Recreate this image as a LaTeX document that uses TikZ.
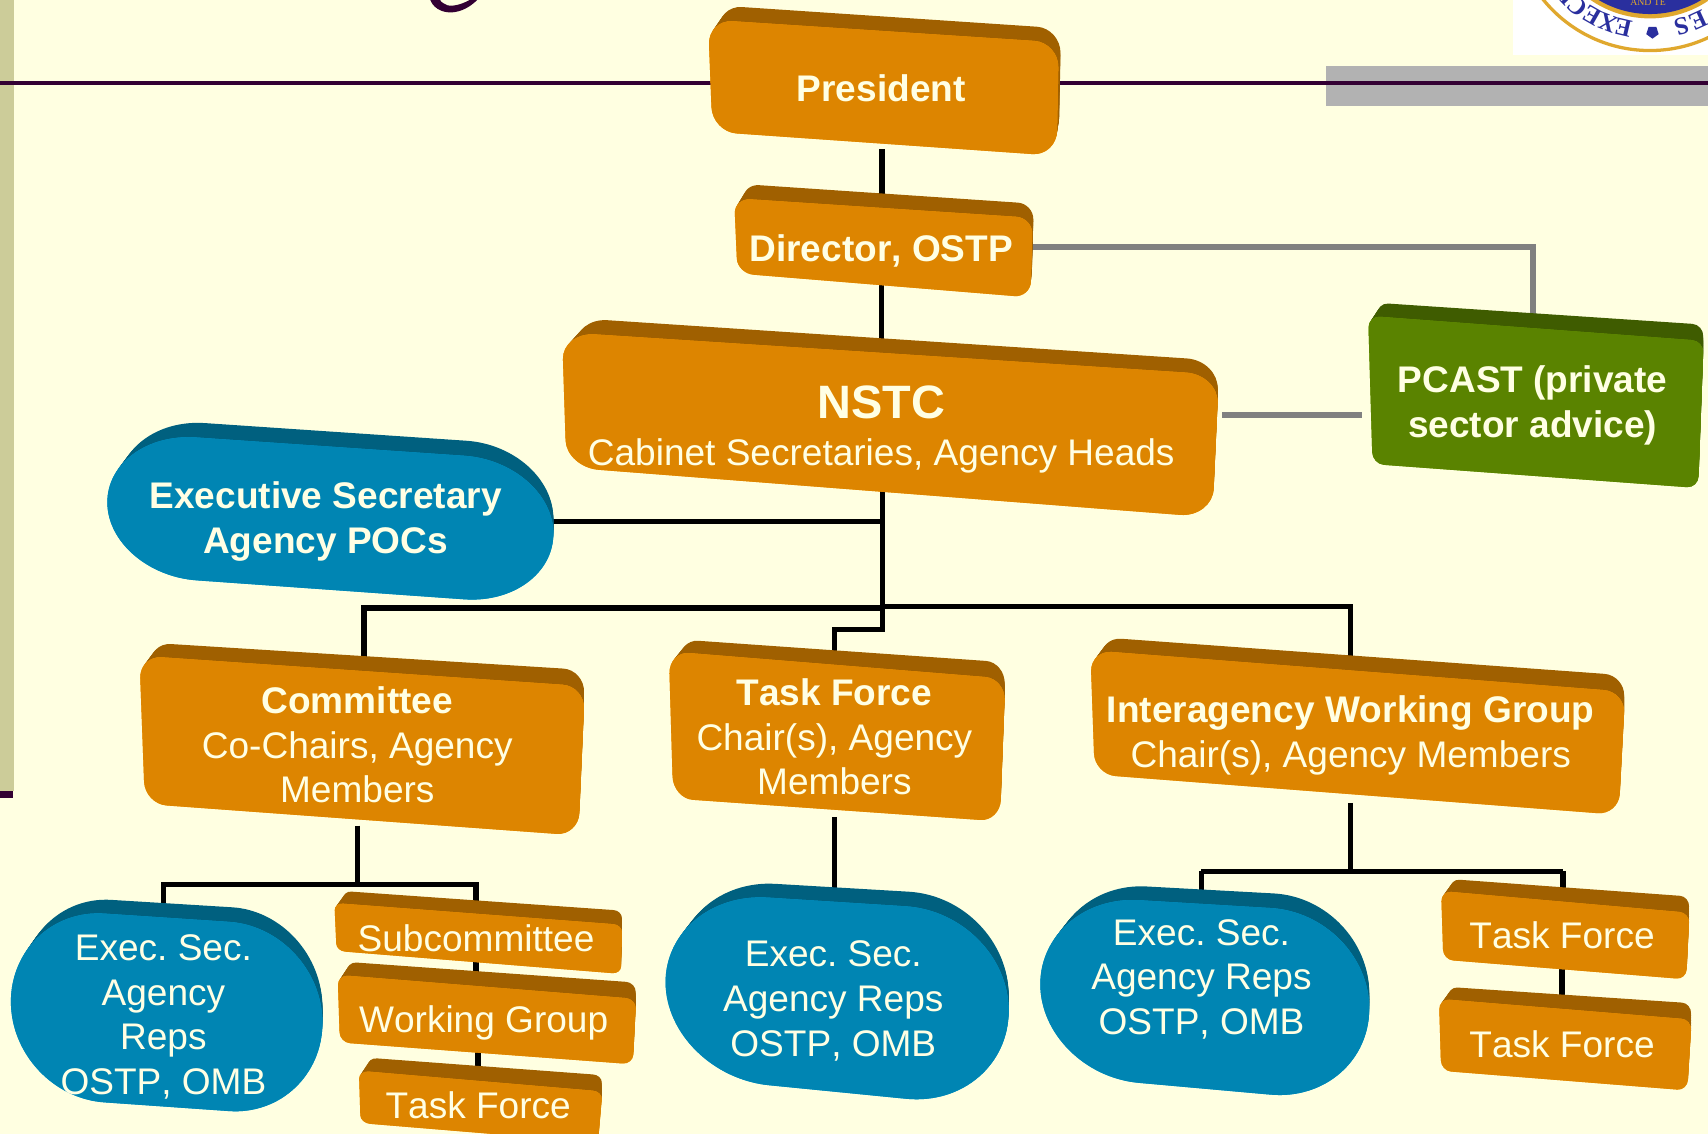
\documentclass[tikz,border=0pt]{standalone}
\usepackage{fontspec}
\setmainfont[Kerning=Off]{Liberation Sans}
\newfontfamily\sealfont{Liberation Serif}
\usetikzlibrary{calc,shapes.geometric}
\pgfdeclarelayer{backlayer}
\pgfdeclarelayer{shapelayer}
\pgfsetlayers{backlayer,shapelayer,main}
\definecolor{pagebg}{HTML}{FFFFE1}
\definecolor{txtc}{HTML}{FFFFE4}
\definecolor{band}{HTML}{CCCC99}
\definecolor{plum}{HTML}{330033}
\definecolor{oF}{HTML}{DD8500}\definecolor{oD}{HTML}{A06000}\definecolor{oL}{HTML}{FF9C00}
\definecolor{bF}{HTML}{0085B3}\definecolor{bD}{HTML}{00607F}\definecolor{bL}{HTML}{00A0DC}
\definecolor{gF}{HTML}{5A8300}\definecolor{gD}{HTML}{3F5C00}\definecolor{gL}{HTML}{6EA000}
\definecolor{sealblue}{HTML}{2A2F9E}
\definecolor{sealgold}{HTML}{E0A82E}
\newcommand\quadfill[7]{%
  \fill[#1] ($(#4)!#2!(#5)$) -- ($(#5)!#2!(#4)$)
    .. controls ($(#5)!0.45*#2!(#4)$) and ($(#5)!0.45*#3!(#6)$) .. ($(#5)!#3!(#6)$)
    -- ($(#6)!#3!(#5)$)
    .. controls ($(#6)!0.45*#3!(#5)$) and ($(#6)!0.45*#2!(#7)$) .. ($(#6)!#2!(#7)$)
    -- ($(#7)!#2!(#6)$)
    .. controls ($(#7)!0.45*#2!(#6)$) and ($(#7)!0.45*#3!(#4)$) .. ($(#7)!#3!(#4)$)
    -- ($(#4)!#3!(#7)$)
    .. controls ($(#4)!0.45*#3!(#7)$) and ($(#4)!0.45*#2!(#5)$) .. cycle;}
\newcommand\threedsolid[9]{%
  \coordinate (fA) at #4; \coordinate (fB) at #5; \coordinate (fC) at #6; \coordinate (fD) at #7;
  \coordinate (bA) at ($(fA)+#8$); \coordinate (bD) at ($(fD)+#8$);
  \coordinate (bB) at ($(fB)+#9$); \coordinate (bC) at ($(fC)+#9$);
  \foreach \t in {1,0.9,0.8,0.7,0.6,0.5,0.4,0.3,0.2,0.1}{%
    \coordinate (iA) at ($(fA)!\t!(bA)$); \coordinate (iB) at ($(fB)!\t!(bB)$);
    \coordinate (iC) at ($(fC)!\t!(bC)$); \coordinate (iD) at ($(fD)!\t!(bD)$);
    \quadfill{#1D}{#2}{#3}{iA}{iB}{iC}{iD}}
  \begin{scope}[shift={(0,2.5)}]\quadfill{#1L}{#2}{#3}{fA}{fB}{fC}{fD}\end{scope}
  \quadfill{#1F}{#2}{#3}{fA}{fB}{fC}{fD}}
\tikzset{
  lbl/.style={inner sep=0pt,outer sep=0pt,text=txtc,align=center,font=\fontsize{34}{41}\selectfont\frenchspacing},
  lblb/.style={lbl,font=\fontsize{34}{41}\selectfont\bfseries\frenchspacing},
  blackline/.style={draw=black,line width=5pt},
  grayline/.style={draw=black!50,line width=5.5pt},
  sealletter/.style={inner sep=0pt,text=sealblue,font=\sealfont\fontsize{23}{23}\selectfont\bfseries}
}
\begin{document}
\begin{tikzpicture}[x=1pt,y=-1pt]
\useasboundingbox (0,0) rectangle (1568,1041);
% texts
\node[lblb] (pres) at (809,81) {President};
\node[lblb] (dir) at (809,230) {Director, OSTP};
\node[lbl] (nstc) at (809,394) {\fontsize{43}{47}\selectfont\bfseries NSTC\\[2pt]\fontsize{34}{41}\selectfont\mdseries Cabinet Secretaries, Agency Heads};
\node[lblb] (pcast) at (1407,372) {PCAST (private\\sector advice)};
\node[lblb] (esec) at (299,479) {Executive Secretary\\Agency POCs};
\node[lbl] (comm) at (328,684) {\textbf{Committee}\\Co-Chairs, Agency\\Members};
\node[lbl] (tf) at (766,676.5) {\textbf{Task Force}\\Chair(s), Agency\\Members};
\node[lbl] (iwg) at (1240,675) {\textbf{Interagency Working Group}\\Chair(s), Agency Members};
\node[lbl] (eL) at (150,933.5) {Exec. Sec.\\Agency\\Reps\\OSTP, OMB};
\node[lbl] (sub) at (437,861) {Subcommittee};
\node[lbl] (wg) at (444,939) {Working Group};
\node[lbl] (tfL) at (439,1015) {Task Force};
\node[lbl] (eC) at (765,919) {Exec. Sec.\\Agency Reps\\OSTP, OMB};
\node[lbl] (eR) at (1103,899) {Exec. Sec.\\Agency Reps\\OSTP, OMB};
\node[lbl] (tfR1) at (1434,859) {Task Force};
\node[lbl] (tfR2) at (1434,959) {Task Force};
% named connector points
\coordinate (presOut) at (809.5,137);
\coordinate (nstcE) at (1122,381);
\coordinate (pcastW) at (1250,381);
\coordinate (jEsec) at (810,479);
\coordinate (busM) at (810,558);
\coordinate (busL) at (334,559);
\coordinate (busR) at (1240,557);
\coordinate (commTop) at (334,610);
\coordinate (iwgTop) at (1240,610);
\coordinate (tfJ1) at (810,578);
\coordinate (tfJ2) at (766,578);
\coordinate (tfTop) at (766,600);
\coordinate (commOut) at (328,758);
\coordinate (commBus) at (328,812);
\coordinate (commBusL) at (150,812);
\coordinate (commBusR) at (437,812);
\coordinate (eLTop) at (150,840);
\coordinate (subTop) at (437,840);
\coordinate (tfOut) at (766,750);
\coordinate (eCTop) at (766,825);
\coordinate (iwgOut) at (1240,737);
\coordinate (iwgBus) at (1240,800);
\coordinate (iwgBusL) at (1103,800);
\coordinate (iwgBusR) at (1435,800);
\coordinate (eRTop) at (1103,830);
\coordinate (tfR1Top) at (1435,825);
\begin{pgfonlayer}{backlayer}
  \fill[pagebg] (0,0) rectangle (1568,1041);
  \fill[band] (0,0) rectangle (13,726);
  \fill[plum] (0,726) rectangle (12,733);
  \fill[black!30] (1217,61) rectangle (1568,97);
  \draw[plum,line width=3.7pt] (0,76) -- (1568,76);
  \fill[plum] (395,0) .. controls (399,10) and (410,12.5) .. (418,11)
     .. controls (427,9.5) and (434,4) .. (438,0) -- (431,0)
     .. controls (424,4) and (416,6) .. (411,5) .. controls (408,4) and (405,2) .. (404,0) -- cycle;
  \begin{scope}
    \clip (1389,0) rectangle (1568,50.5);
    \fill[white] (1389,0) rectangle (1568,50.5);
    \draw[sealgold,line width=3pt] (1514.7,-79.6) circle (126);
    \fill[sealgold] (1514.7,-79.6) circle (96.5);
    \fill[sealblue] (1514.7,-79.6) circle (92.5);
    \node[text=sealgold,inner sep=0pt,font=\sealfont\fontsize{9}{9}\selectfont] (sealmotto) at (1513,2) {AND TE};
    \foreach \a/\l [count=\n] in {103.2/E,111.1/X,119.7/E,128/C,136/U,74.4/S,65.5/E}{
      \node[sealletter,rotate=-\a-90] (seal\n) at ({1514.7+108*cos(\a)},{-79.6+108*sin(\a)}) {\l};
    }
    \node[regular polygon,regular polygon sides=5,fill=sealblue,inner sep=0pt,minimum size=12pt,rotate=180] (sealstar) at (1517,29.5) {};
  \end{scope}
  % connectors
  \draw[blackline] (presOut) -- (presOut |- dir.center);
  \draw[blackline] (dir.center) -- (nstc.center);
  \draw[blackline] (jEsec |- nstc.center) -- (jEsec);
  \draw[blackline] (jEsec) -- (busM);
  \draw[blackline] (jEsec) -- (jEsec -| esec.center);
  \draw[blackline] (busM) -- (busL |- busM) -- (commTop);
  \draw[blackline] (busM |- busR) -- (busR) -- (iwgTop);
  \draw[blackline] (busM) -- (tfJ1) -- (tfJ2) -- (tfTop);
  \draw[blackline] (commOut) -- (commBus);
  \draw[blackline] (commBus) -- (commBusL) -- (eLTop);
  \draw[blackline] (commBus) -- (commBusR) -- (subTop);
  \draw[blackline] (sub.center) -- (sub.center |- wg.center);
  \draw[blackline] (tfL.center) -- (tfL.center |- wg.center);
  \draw[blackline] (tfOut) -- (eCTop);
  \draw[blackline] (iwgOut) -- (iwgBus);
  \draw[blackline] (iwgBusL) -- (iwgBusR);
  \draw[blackline] (iwgBusL) -- (eRTop);
  \draw[blackline] (iwgBusR) -- (tfR1Top);
  \draw[blackline] (tfR1.center) -- (tfR2.center);
  \draw[grayline] (dir.center |- 0,227) -| (pcast.center);
  \draw[grayline,line width=5pt] (nstcE) -- (pcastW);
\end{pgfonlayer}
\begin{pgfonlayer}{shapelayer}
  \threedsolid{o}{0.07}{0.22}{(650,18)}{(972,39)}{(970,143)}{(654,121)}{(9,-13)}{(2,-13)}
  \threedsolid{o}{0.055}{0.2}{(674,182)}{(948,200)}{(946,273)}{(677,251)}{(8,-13)}{(1,-13)}
  \threedsolid{o}{0.05}{0.2}{(516,305)}{(1119,344)}{(1113,475)}{(520,429)}{(12,-13)}{(0,-13)}
  \threedsolid{b}{0.2}{0.5}{(98,396)}{(508,424)}{(508,556)}{(99,527)}{(10,-13)}{(0,-14)}
  \threedsolid{g}{0.035}{0.08}{(1256,290)}{(1564,313)}{(1559,448)}{(1260,426)}{(8,-12)}{(0,-15)}
  \threedsolid{o}{0.05}{0.15}{(128,602)}{(537,630)}{(531,767)}{(133,738)}{(9,-12)}{(0,-15)}
  \threedsolid{o}{0.06}{0.15}{(614,598)}{(923,623)}{(918,754)}{(618,733)}{(9,-11)}{(0,-15)}
  \threedsolid{o}{0.04}{0.17}{(1001,597)}{(1492,635)}{(1486,748)}{(1005,711)}{(9,-12)}{(0,-15)}
  \threedsolid{b}{0.3}{0.5}{(10,833)}{(296,852)}{(296,1026)}{(10,1006)}{(9,-12)}{(0,-14)}
  \threedsolid{o}{0.03}{0.15}{(307,829)}{(571,849)}{(570,894)}{(309,873)}{(8,-11)}{(0,-13)}
  \threedsolid{o}{0.035}{0.15}{(310,895)}{(584,917)}{(581,977)}{(312,957)}{(8,-12)}{(0,-15)}
  \threedsolid{o}{0.04}{0.15}{(329.5,983)}{(553,1002)}{(549,1049)}{(331,1031)}{(8,-12)}{(0,-15)}
  \threedsolid{b}{0.3}{0.5}{(610,818)}{(926,838)}{(926,1018)}{(612,987)}{(10,-12)}{(0,-14)}
  \threedsolid{b}{0.3}{0.5}{(955,821)}{(1257,839)}{(1257,1013)}{(955,986)}{(10,-12)}{(0,-14)}
  \threedsolid{o}{0.04}{0.15}{(1323,818)}{(1551,838)}{(1548,899)}{(1325,881)}{(8,-11)}{(0,-15)}
  \threedsolid{o}{0.04}{0.15}{(1321,917)}{(1553,936)}{(1549,1001)}{(1323,983)}{(8,-11)}{(0,-15)}
\end{pgfonlayer}
\end{tikzpicture}
\end{document}
